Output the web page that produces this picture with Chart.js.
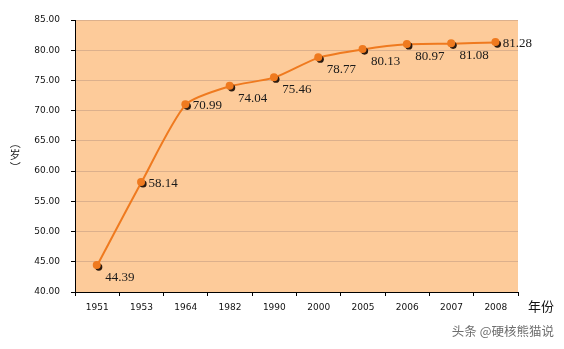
<!DOCTYPE html>
<html>
<head>
<meta charset="utf-8">
<script src="https://cdn.jsdelivr.net/npm/chart.js@4.4.1/dist/chart.umd.min.js"></script>
<style>
  html, body { margin: 0; padding: 0; background: #fff; }
  #wrap { width: 564px; height: 349px; position: relative; }
</style>
</head>
<body>
<div id="wrap"><canvas id="c" width="564" height="349"></canvas></div>
<script>
// 年份 / 平均寿命（岁）
const years  = ['1951', '1953', '1964', '1982', '1990', '2000', '2005', '2006', '2007', '2008'];
const values = [44.39, 58.14, 70.99, 74.04, 75.46, 78.77, 80.13, 80.97, 81.08, 81.28];
const yTicks = [40, 45, 50, 55, 60, 65, 70, 75, 80, 85];

// 数据标签放在点的哪一侧
const labelSide = ['below', 'right', 'right', 'below', 'below', 'below', 'below', 'below', 'below', 'right'];

const ORANGE = '#ef7a1f';
const PEACH  = '#fdcb9a';

// 绘图区背景
const plotBg = {
  id: 'plotBg',
  beforeDraw(chart) {
    const { ctx, chartArea: a } = chart;
    ctx.save();
    ctx.fillStyle = PEACH;
    ctx.fillRect(a.left, a.top, a.right - a.left, a.bottom - a.top);
    ctx.restore();
  }
};

// 点的黑色阴影
const pointShadow = {
  id: 'pointShadow',
  afterDatasetsDraw(chart) {
    const { ctx } = chart;
    const meta = chart.getDatasetMeta(0);
    ctx.save();
    meta.data.forEach(p => {
      ctx.fillStyle = '#2a1a10';
      ctx.beginPath();
      ctx.arc(p.x + 1.6, p.y + 1.6, 3.6, 0, Math.PI * 2);
      ctx.fill();
      ctx.fillStyle = ORANGE;
      ctx.beginPath();
      ctx.arc(p.x - 0.4, p.y - 0.4, 4, 0, Math.PI * 2);
      ctx.fill();
    });
    ctx.restore();
  }
};

// 数值标签、坐标轴标题
const texts = {
  id: 'texts',
  afterDraw(chart) {
    const { ctx, chartArea: a } = chart;
    const meta = chart.getDatasetMeta(0);
    ctx.save();
    ctx.fillStyle = '#1a1a1a';
    ctx.font = '13px "Liberation Serif", serif';
    ctx.textAlign = 'left';
    ctx.textBaseline = 'middle';
    meta.data.forEach((p, i) => {
      const txt = values[i].toFixed(2);
      if (labelSide[i] === 'right') ctx.fillText(txt, p.x + 7, p.y + 1);
      else ctx.fillText(txt, p.x + 8, p.y + 12);
    });

    // 纵轴标题（竖排，括号转 90°）
    ctx.font = '11px "Noto Sans CJK SC", sans-serif';
    ctx.textAlign = 'center';
    ctx.fillStyle = '#222';
    const vchars = ['（', '岁', '）'];
    vchars.forEach((ch, i) => {
      const y = 143 + i * 12;
      if (ch === '岁') {
        ctx.fillText(ch, 15, y);
      } else {
        ctx.save();
        ctx.translate(15, y);
        ctx.rotate(Math.PI / 2);
        ctx.fillText(ch, 0, 0);
        ctx.restore();
      }
    });

    // 横轴标题
    ctx.font = '13px "Noto Sans CJK SC", sans-serif';
    ctx.textAlign = 'left';
    ctx.fillStyle = '#111';
    ctx.fillText('年份', a.right + 10, a.bottom + 14);

    // 水印
    ctx.font = '12.5px "Noto Sans CJK SC", sans-serif';
    ctx.fillStyle = '#6e6e6e';
    ctx.textAlign = 'right';
    ctx.fillText('头条 @硬核熊猫说', 554, 331);
    ctx.restore();
  }
};

new Chart(document.getElementById('c'), {
  type: 'line',
  data: {
    labels: years,
    datasets: [{
      data: values,
      borderColor: ORANGE,
      borderWidth: 2,
      tension: 0.22,
      pointRadius: 0,
      pointHoverRadius: 0,
      fill: false
    }]
  },
  options: {
    responsive: false,
    animation: false,
    layout: { padding: { top: 20, right: 46, bottom: 0, left: 0 } },
    plugins: { legend: { display: false }, tooltip: { enabled: false } },
    scales: {
      x: {
        offset: true,
        grid: {
          offset: true,
          drawOnChartArea: false,
          color: '#000',
          tickLength: 4,
          tickWidth: 1
        },
        border: { color: '#000', width: 1 },
        ticks: {
          color: '#111',
          padding: 6,
          maxRotation: 0,
          font: { family: '"DejaVu Sans", sans-serif', size: 9 }
        },
        afterFit(s) { s.height = 57; }
      },
      y: {
        min: 40,
        max: 85,
        afterBuildTicks(s) { s.ticks = yTicks.map(v => ({ value: v })); },
        grid: {
          color: '#dcb08c',
          tickColor: '#000',
          tickLength: 4
        },
        border: { color: '#000', width: 1 },
        ticks: {
          color: '#111',
          padding: 11,
          font: { family: '"DejaVu Sans", sans-serif', size: 9 },
          callback: v => Number(v).toFixed(2)
        },
        afterFit(s) { s.width = 75; }
      }
    }
  },
  plugins: [plotBg, pointShadow, texts]
});
</script>
</body>
</html>
